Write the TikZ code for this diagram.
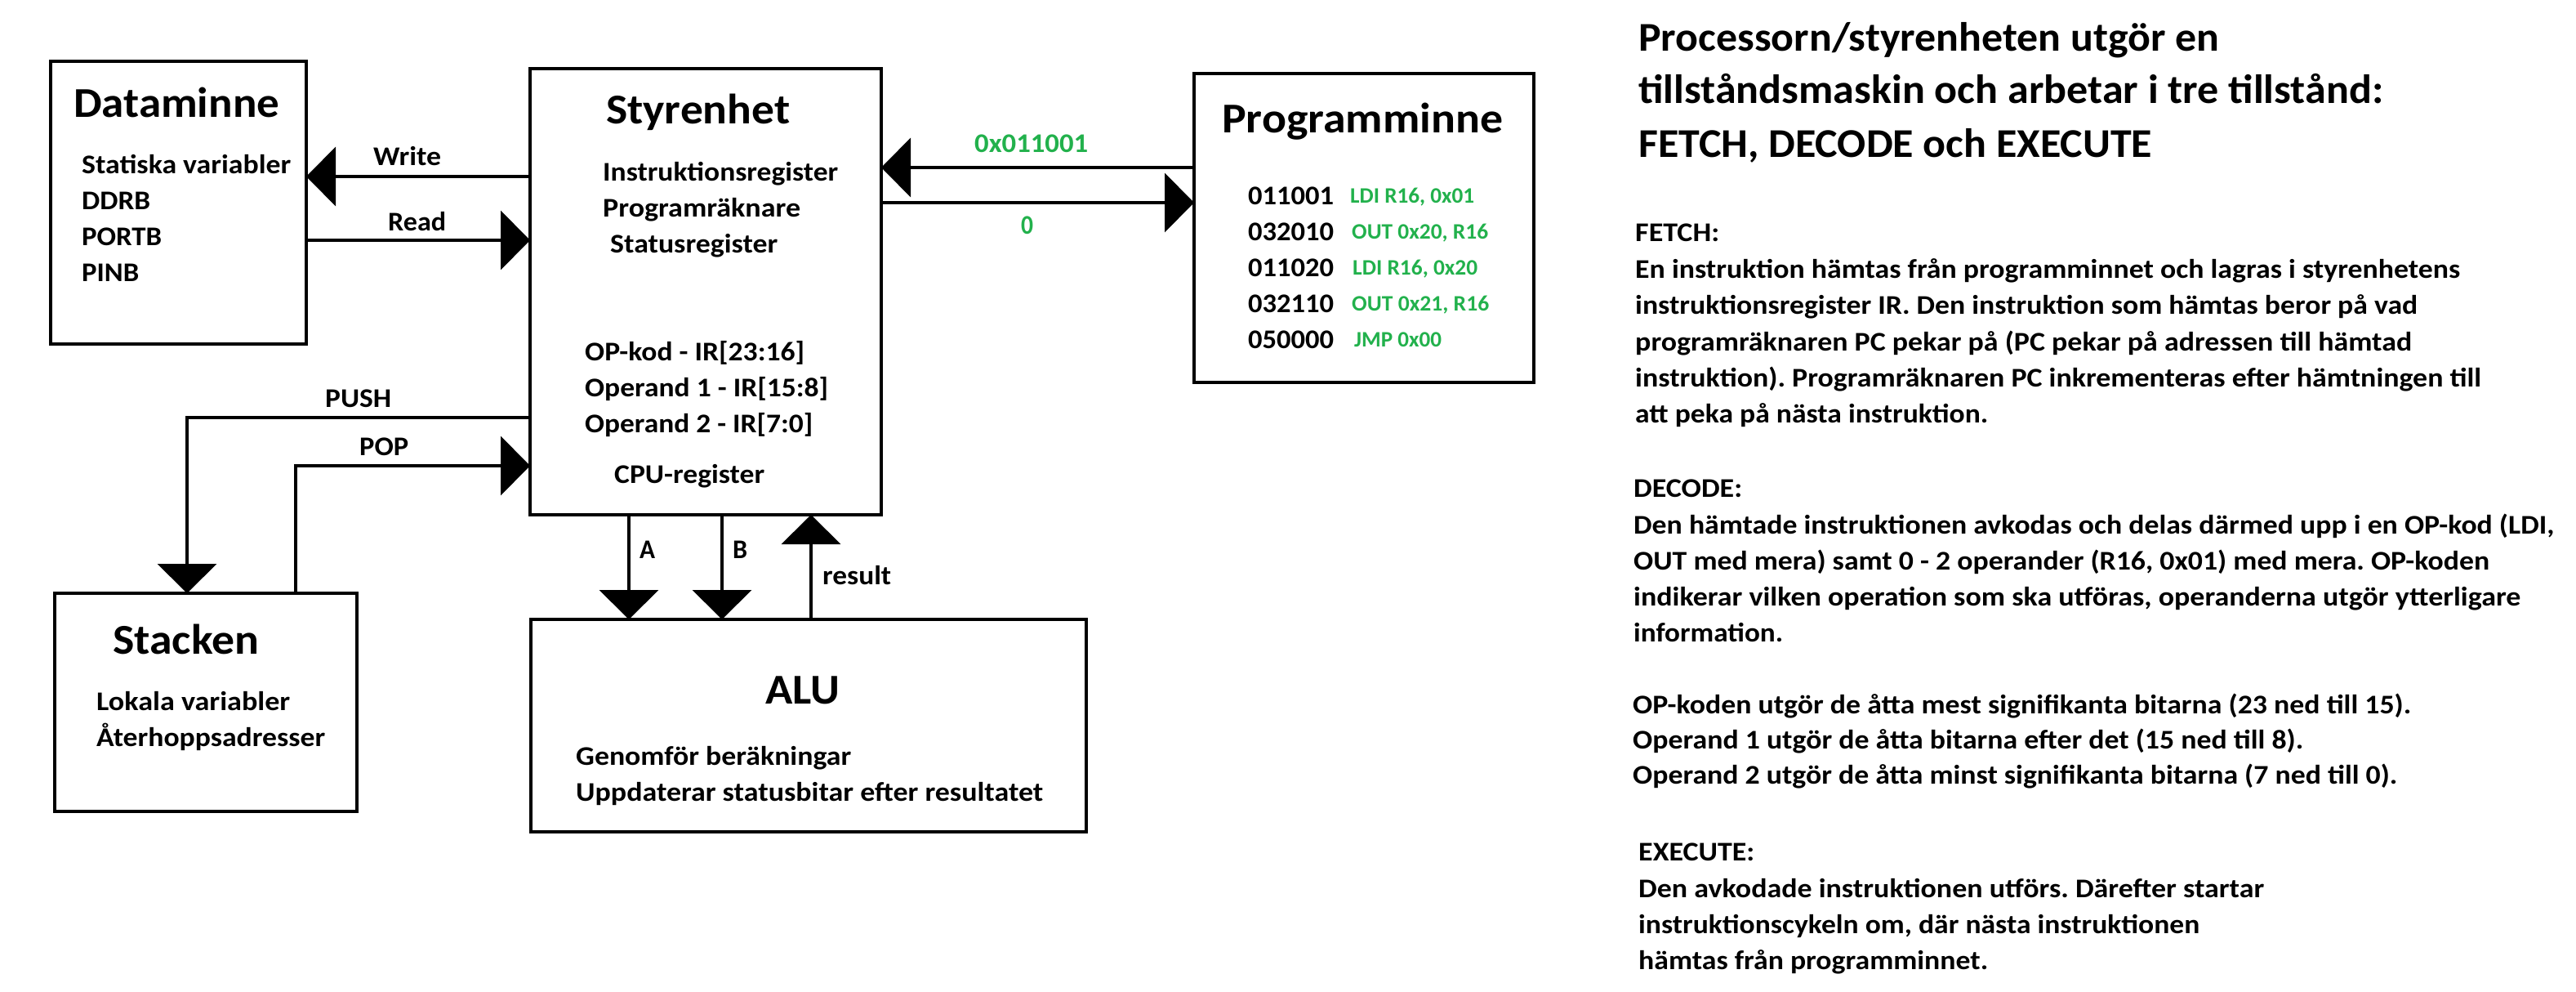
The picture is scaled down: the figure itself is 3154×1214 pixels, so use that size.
\documentclass[tikz,border=0pt]{standalone}
\usepackage{fontspec}
\usepackage{graphicx}
\setmainfont{Carlito}
\frenchspacing
\usetikzlibrary{arrows.meta}
\definecolor{pgreen}{RGB}{34,177,76}
\newcommand\fitw[2]{\resizebox{#1pt}{\height}{#2}}
\tikzset{
  box/.style={draw, line width=4.5pt, inner sep=0pt, outer sep=0pt, anchor=north west},
  txt/.style={inner sep=0pt, anchor=base west, font=\fontsize{33}{40}\selectfont\bfseries},
  ttl/.style={inner sep=0pt, anchor=base west, font=\fontsize{52}{60}\selectfont\bfseries},
  code/.style={inner sep=0pt, anchor=base west, text=pgreen, font=\fontsize{27}{30}\selectfont\bfseries},
  gl/.style={txt, text=pgreen},
  rtitle/.style={inner sep=0pt, anchor=base west, font=\fontsize{50}{58}\selectfont\bfseries},
  rtxt/.style={inner sep=0pt, anchor=base west, font=\fontsize{33}{40}\selectfont\bfseries},
  arr/.style={line width=4.5pt, -{Triangle[length=36pt,width=72pt]}}
}
\begin{document}
\begin{tikzpicture}[x=1pt,y=-1pt]
\useasboundingbox (0,0) rectangle (3154,1214);
% boxes
\node[box, minimum width=313pt, minimum height=346pt] (dm) at (62,75) {};
\node[box, minimum width=430pt, minimum height=546pt] (sty) at (649,84) {};
\node[box, minimum width=416pt, minimum height=378pt] (pm) at (1462,90) {};
\node[box, minimum width=370pt, minimum height=267pt] (stk) at (67,726) {};
\node[box, minimum width=680pt, minimum height=260pt] (alu) at (650,758) {};
% Dataminne
\node[ttl] (dmt) at (90,144) {\fitw{252}{Dataminne}};
\node[txt] (dm1) at (100,213) {\fitw{256}{Statiska variabler}};
\node[txt] (dm2) at (100,257) {\fitw{84}{DDRB}};
\node[txt] (dm3) at (100,301) {\fitw{98}{PORTB}};
\node[txt] (dm4) at (100,345) {\fitw{70}{PINB}};
% Styrenhet
\node[ttl] (styt) at (742,152) {\fitw{225}{Styrenhet}};
\node[txt] (st1) at (738,222) {\fitw{288}{Instruktionsregister}};
\node[txt] (st2) at (738,266) {\fitw{242}{Programräknare}};
\node[txt] (st3) at (747,310) {\fitw{205}{Statusregister}};
\node[txt] (st4) at (716,441) {\fitw{269}{OP-kod - IR[23:16]}};
\node[txt] (st5) at (716,485) {\fitw{298}{Operand 1 - IR[15:8]}};
\node[txt] (st6) at (716,529) {\fitw{279}{Operand 2 - IR[7:0]}};
\node[txt] (st7) at (752,591) {\fitw{184}{CPU-register}};
% Programminne
\node[ttl] (pmt) at (1496,163) {\fitw{344}{Programminne}};
\node[txt] (c1) at (1528,251) {\fitw{105}{011001}};
\node[txt] (c2) at (1528,295) {\fitw{105}{032010}};
\node[txt] (c3) at (1528,339) {\fitw{105}{011020}};
\node[txt] (c4) at (1528,383) {\fitw{105}{032110}};
\node[txt] (c5) at (1528,427) {\fitw{105}{050000}};
\node[code] (g1) at (1653,249) {\fitw{152}{LDI R16, 0x01}};
\node[code] (g2) at (1655,293) {\fitw{167}{OUT 0x20, R16}};
\node[code] (g3) at (1656,337) {\fitw{153}{LDI R16, 0x20}};
\node[code] (g4) at (1655,381) {\fitw{168}{OUT 0x21, R16}};
\node[code] (g5) at (1658,425) {\fitw{107}{JMP 0x00}};
% Stacken
\node[ttl] (stkt) at (138,800) {\fitw{179}{Stacken}};
\node[txt] (sk1) at (118,869) {\fitw{237}{Lokala variabler}};
\node[txt] (sk2) at (118,913) {\fitw{280}{Återhoppsadresser}};
% ALU
\node[ttl] (alut) at (937,861) {\fitw{91}{ALU}};
\node[txt] (al1) at (705,936) {\fitw{337}{Genomför beräkningar}};
\node[txt] (al2) at (705,980) {\fitw{572}{Uppdaterar statusbitar efter resultatet}};
% connectors
\draw[arr] (sty.west |- 0,216) -- (dm.east |- 0,216);
\draw[arr] (dm.east |- 0,294) -- (sty.west |- 0,294);
\draw[arr] (pm.west |- 0,205) -- (sty.east |- 0,205);
\draw[arr] (sty.east |- 0,248) -- (pm.west |- 0,248);
\draw[arr] (sty.west |- 0,511) -| (229,0 |- stk.north);
\draw[arr] (362,0 |- stk.north) |- (sty.west |- 0,570);
\draw[arr] (770,0 |- sty.south) -- (770,0 |- alu.north);
\draw[arr] (884,0 |- sty.south) -- (884,0 |- alu.north);
\draw[arr] (993,0 |- alu.north) -- (993,0 |- sty.south);
% connector labels
\node[txt] (lw) at (457,203) {\fitw{83}{Write}};
\node[txt] (lr) at (475,283) {\fitw{71}{Read}};
\node[gl] (lhex) at (1193,187) {\fitw{139}{0x011001}};
\node[gl] (lzero) at (1250,287) {\fitw{15}{0}};
\node[txt] (lpush) at (398,498) {\fitw{81}{PUSH}};
\node[txt] (lpop) at (440,557) {\fitw{60}{POP}};
\node[txt] (la) at (783,683) {\fitw{19}{A}};
\node[txt] (lb) at (897,683) {\fitw{18}{B}};
\node[txt] (lres) at (1007,715) {\fitw{84}{result}};
% right text
\node[rtitle] (r1) at (2006,63) {\fitw{711}{Processorn/styrenheten utgör en}};
\node[rtitle] (r2) at (2006,127) {\fitw{912}{tillståndsmaskin och arbetar i tre tillstånd:}};
\node[rtitle] (r3) at (2006,193) {\fitw{629}{FETCH, DECODE och EXECUTE}};
\node[rtxt] (f0) at (2002,296) {\fitw{103}{FETCH:}};
\node[rtxt] (f1) at (2002,341) {\fitw{1010}{En instruktion hämtas från programminnet och lagras i styrenhetens}};
\node[rtxt] (f2) at (2002,385) {\fitw{958}{instruktionsregister IR. Den instruktion som hämtas beror på vad}};
\node[rtxt] (f3) at (2002,429) {\fitw{951}{programräknaren PC pekar på (PC pekar på adressen till hämtad}};
\node[rtxt] (f4) at (2002,473) {\fitw{1036}{instruktion). Programräknaren PC inkrementeras efter hämtningen till}};
\node[rtxt] (f5) at (2002,517) {\fitw{432}{att peka på nästa instruktion.}};
\node[rtxt] (d0) at (2000,608) {\fitw{133}{DECODE:}};
\node[rtxt] (d1) at (2000,653) {\fitw{1127}{Den hämtade instruktionen avkodas och delas därmed upp i en OP-kod (LDI,}};
\node[rtxt] (d2) at (2000,697) {\fitw{1048}{OUT med mera) samt 0 - 2 operander (R16, 0x01) med mera. OP-koden}};
\node[rtxt] (d3) at (2000,741) {\fitw{1086}{indikerar vilken operation som ska utföras, operanderna utgör ytterligare}};
\node[rtxt] (d4) at (2000,785) {\fitw{183}{information.}};
\node[rtxt] (o1) at (1999,873) {\fitw{953}{OP-koden utgör de åtta mest signifikanta bitarna (23 ned till 15).}};
\node[rtxt] (o2) at (1999,916) {\fitw{821}{Operand 1 utgör de åtta bitarna efter det (15 ned till 8).}};
\node[rtxt] (o3) at (1999,959) {\fitw{936}{Operand 2 utgör de åtta minst signifikanta bitarna (7 ned till 0).}};
\node[rtxt] (e0) at (2006,1053) {\fitw{142}{EXECUTE:}};
\node[rtxt] (e1) at (2006,1098) {\fitw{766}{Den avkodade instruktionen utförs. Därefter startar}};
\node[rtxt] (e2) at (2006,1142) {\fitw{687}{instruktionscykeln om, där nästa instruktionen}};
\node[rtxt] (e3) at (2006,1186) {\fitw{428}{hämtas från programminnet.}};
\end{tikzpicture}
\end{document}
